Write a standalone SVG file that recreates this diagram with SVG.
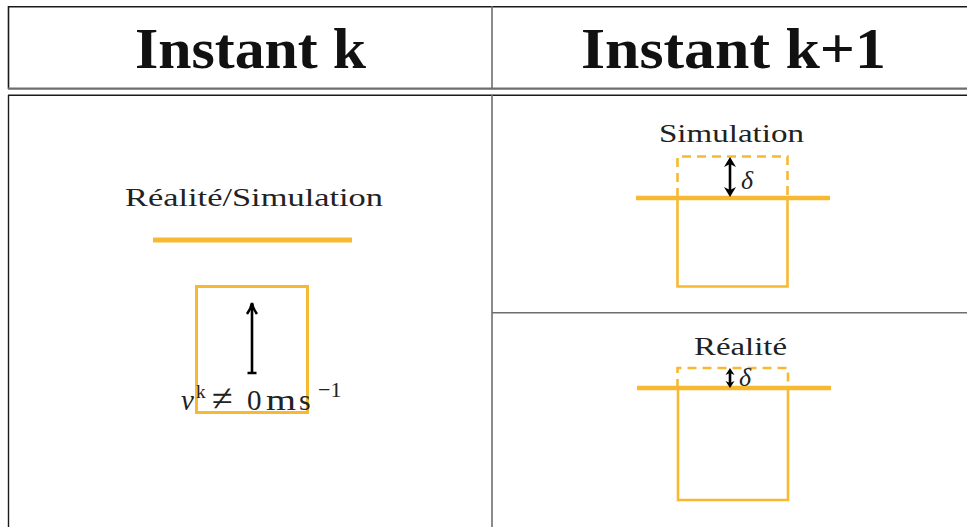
<svg xmlns="http://www.w3.org/2000/svg" width="967" height="527" viewBox="0 0 967 527">
<defs>
<style>
.hdr{font-family:"Liberation Serif","DejaVu Serif",serif;font-weight:bold;font-size:58px;fill:#111;text-anchor:middle}
.lbl{font-family:"Liberation Serif","DejaVu Serif",serif;font-size:26px;fill:#222}
.math{font-family:"Liberation Serif","DejaVu Serif",serif;fill:#222}
.or{stroke:#F8B932;fill:none}
.grid{stroke:#6e6e6e;fill:none}
.dark{stroke:#1a1a1a;fill:none}
.arr{stroke:#000;fill:none;stroke-width:2.6}
</style>
</defs>
<rect width="967" height="527" fill="#fff"/>
<g id="table">
<line class="dark" x1="8" y1="6.8" x2="967" y2="6.8" stroke-width="1.6"/>
<line class="dark" x1="8.5" y1="6" x2="8.5" y2="89" stroke-width="1.6"/>
<line class="grid" x1="8" y1="88.6" x2="967" y2="88.6" stroke-width="2.2"/>
<line class="dark" x1="8" y1="95.3" x2="967" y2="95.3" stroke-width="1.4"/>
<line class="dark" x1="8.5" y1="95" x2="8.5" y2="527" stroke-width="1.4"/>
<line class="grid" x1="492" y1="6" x2="492" y2="89" stroke-width="1.6"/>
<line class="grid" x1="492" y1="95" x2="492" y2="527" stroke-width="1.6"/>
<line class="grid" x1="492" y1="312.8" x2="967" y2="312.8" stroke-width="1.6"/>
</g>
<g id="header-k">
<text class="hdr" x="250.5" y="68" textLength="231" lengthAdjust="spacingAndGlyphs">Instant k</text>
</g>
<g id="header-k1">
<text class="hdr" x="733.5" y="68" textLength="305" lengthAdjust="spacingAndGlyphs">Instant k+1</text>
</g>
<g id="cell-k">
<text class="lbl" x="125" y="206" textLength="258" lengthAdjust="spacingAndGlyphs">Réalité/Simulation</text>
<line class="or" x1="153" y1="240" x2="352" y2="240" stroke-width="5"/>
<rect class="or" x="196.5" y="286.5" width="111" height="126" stroke-width="3"/>
<path class="arr" d="M252 304 V373 M247.5 373 H256.5" stroke-width="2.2"/>
<path class="arr" d="M247 314 Q251 309 252 303 Q253 309 257 314" stroke-width="2.2"/>
<text class="math" y="410" font-size="29"><tspan x="181" font-style="italic" font-size="29">v</tspan><tspan x="196" y="398" font-size="19">k</tspan><tspan x="212" y="411" font-size="38">≠</tspan><tspan x="247" y="410" font-size="29">0</tspan><tspan x="266" font-size="30" textLength="30" lengthAdjust="spacingAndGlyphs">m</tspan><tspan x="299" font-size="30">s</tspan><tspan x="318" y="397" font-size="22">−1</tspan></text>
</g>
<g id="cell-simulation">
<text class="lbl" x="659" y="142" textLength="145" lengthAdjust="spacingAndGlyphs">Simulation</text>
<path class="or" d="M677.5 197 V156.5 H787.5 V197" stroke-width="2.6" stroke-dasharray="9 6"/>
<line class="or" x1="636" y1="198" x2="830" y2="198" stroke-width="4.5"/>
<path class="or" d="M677.5 198 V286.5 H787.5 V198" stroke-width="2.6"/>
<line class="arr" x1="730" y1="163" x2="730" y2="191"/>
<path d="M730 157 L736 167 L730 164 L724 167 Z M730 197 L736 187 L730 190 L724 187 Z" fill="#000"/>
<text class="lbl" x="741" y="189" font-style="italic" font-size="30">δ</text>
</g>
<g id="cell-realite">
<text class="lbl" x="694" y="355" textLength="93" lengthAdjust="spacingAndGlyphs">Réalité</text>
<path class="or" d="M677.5 388 V368 H788 V388" stroke-width="2.6" stroke-dasharray="9 6"/>
<line class="or" x1="637" y1="388" x2="831" y2="388" stroke-width="4.5"/>
<path class="or" d="M678 388 V500 H788 V388" stroke-width="2.6"/>
<line class="arr" x1="730" y1="372" x2="730" y2="384" stroke-width="2"/>
<path d="M730 368 L734.5 375 L730 373 L725.5 375 Z M730 388 L734.5 381 L730 383 L725.5 381 Z" fill="#000"/>
<text class="lbl" x="739" y="386" font-style="italic" font-size="28">δ</text>
</g>
</svg>
